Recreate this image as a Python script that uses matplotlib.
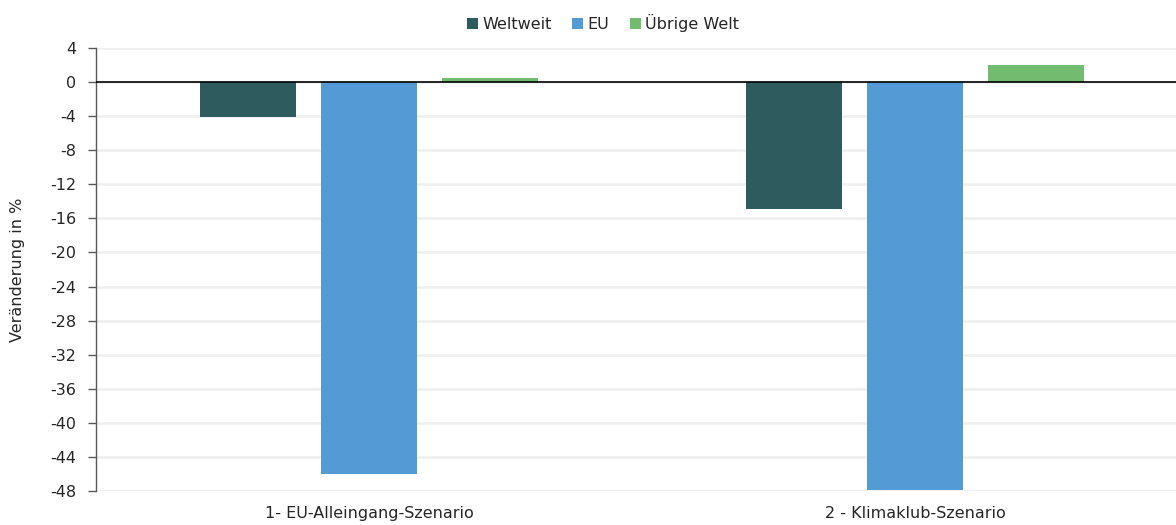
import matplotlib
matplotlib.use("Agg")
import matplotlib.pyplot as plt
import numpy as np

plt.rcParams['font.family'] = ['DejaVu Sans']

scenarios = ["1- EU-Alleingang-Szenario", "2 - Klimaklub-Szenario"]
series_names = ["Weltweit", "EU", "Übrige Welt"]
weltweit = [-4.1, -14.9]
eu = [-46.0, -47.9]
uebrige_welt = [0.5, 2.0]
colors = ["#2E5B5E", "#549BD6", "#72BB6F"]
yticks = list(range(4, -49, -4))

FS = 11.5

fig = plt.figure(figsize=(11.76, 5.25), dpi=100)
ax = fig.add_axes([96 / 1176, 34 / 525, 1092 / 1176, 443 / 525])

x = np.arange(len(scenarios))
width = 0.176
step = 0.2216
handles = []
for i, (vals, name, col) in enumerate(zip([weltweit, eu, uebrige_welt], series_names, colors)):
    h = ax.bar(x + (i - 1) * step, vals, width=width, color=col, label=name, zorder=3)
    handles.append(h)

ax.set_xlim(-0.5, 1.5)
ax.set_ylim(-48, 4)
ax.set_yticks(yticks)
ax.set_yticklabels([str(t) for t in yticks])
ax.yaxis.grid(True, color="#EFEFEF", linewidth=1.8, zorder=0)
ax.set_axisbelow(True)
ax.axhline(0, color="black", linewidth=1.2, zorder=4)

for s in ["top", "right", "bottom"]:
    ax.spines[s].set_visible(False)
ax.spines["left"].set_color("#595959")
ax.spines["left"].set_linewidth(1.0)
ax.tick_params(axis="y", direction="out", length=6, width=1.0, color="#595959",
               labelsize=FS, labelcolor="#262626", pad=8)
ax.set_xticks(x)
ax.set_xticklabels(scenarios)
ax.tick_params(axis="x", length=0, labelsize=FS, labelcolor="#262626", pad=11)

ax.set_ylabel("Veränderung in %", fontsize=FS, color="#262626", labelpad=18)

fig.legend(handles=handles, labels=series_names, loc="center", bbox_to_anchor=(603 / 1176, 1 - 23 / 525),
           ncol=3, frameon=False, fontsize=FS, handlelength=0.7, handleheight=0.7,
           handletextpad=0.25, columnspacing=1.3, labelcolor="#262626")

fig.savefig("out.png", dpi=100)
